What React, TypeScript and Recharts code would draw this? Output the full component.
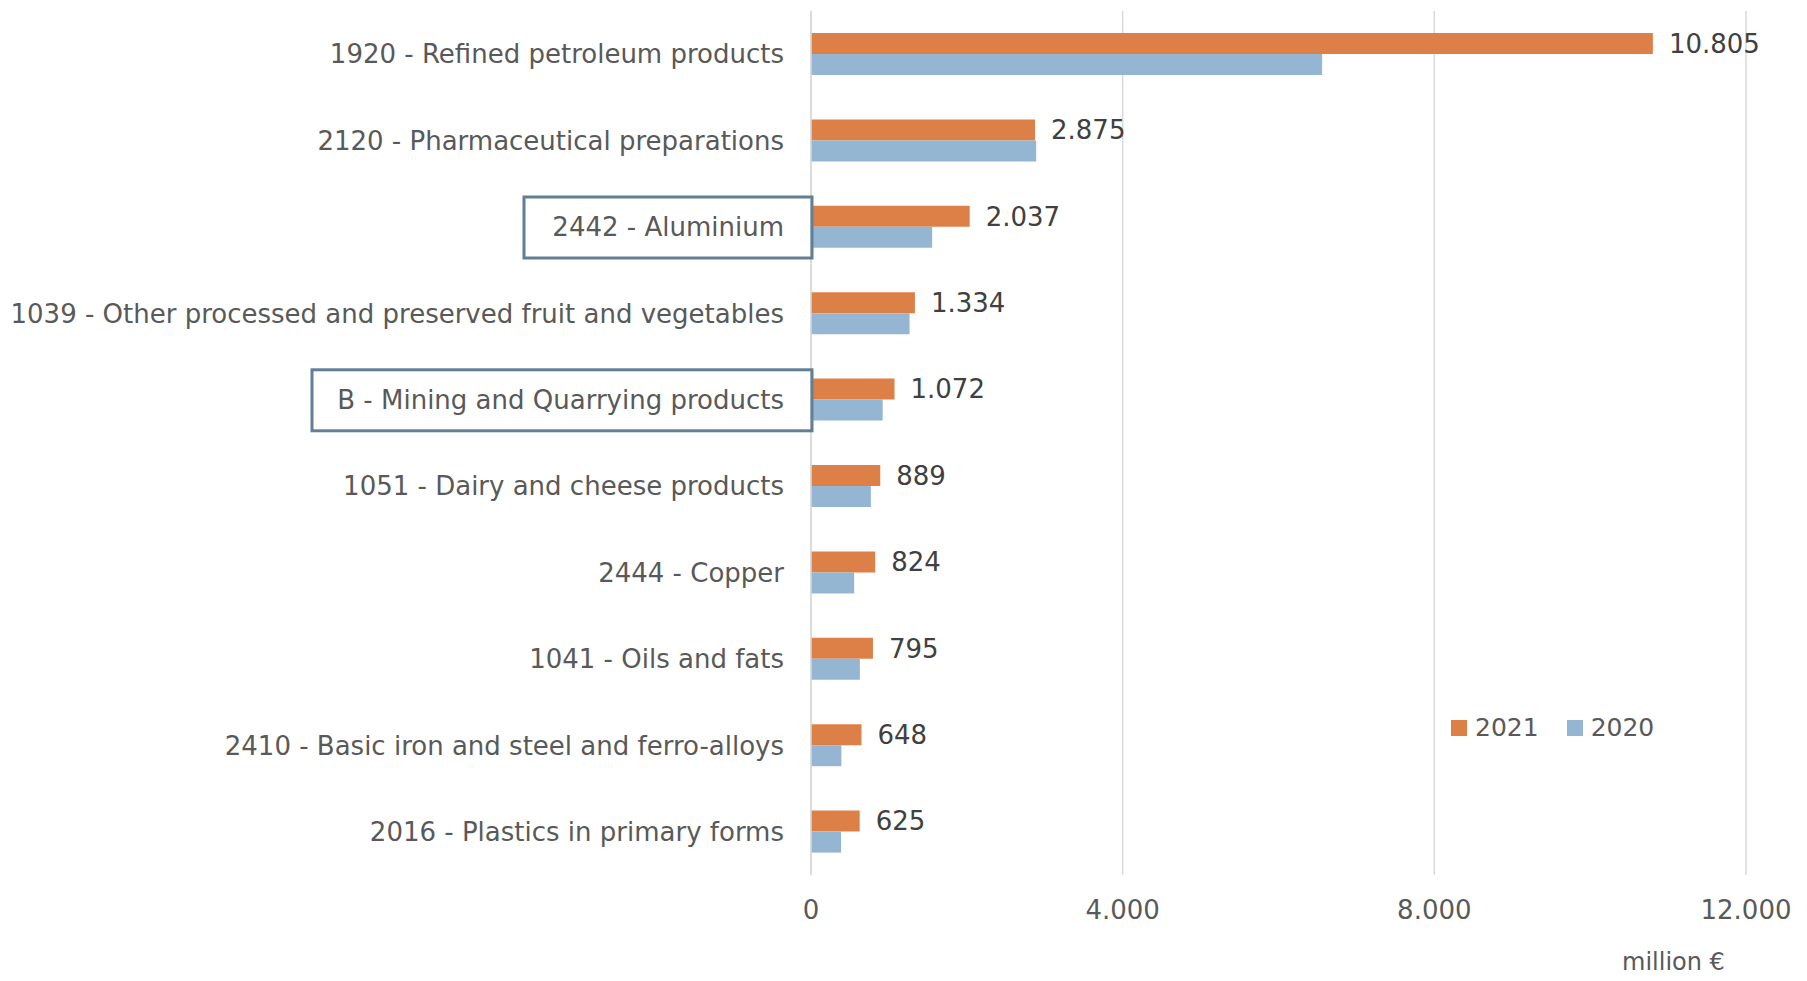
import { BarChart, Bar, XAxis, YAxis, CartesianGrid, LabelList, Legend } from 'recharts';

const categories = [
  '1920 - Refined petroleum products',
  '2120 - Pharmaceutical preparations',
  '2442 - Aluminium',
  '1039 - Other processed and preserved fruit and vegetables',
  'B - Mining and Quarrying products',
  '1051 - Dairy and cheese products',
  '2444 - Copper',
  '1041 - Oils and fats',
  '2410 - Basic iron and steel and ferro-alloys',
  '2016 - Plastics in primary forms',
];

const values2021 = [10805, 2875, 2037, 1334, 1072, 889, 824, 795, 648, 625];
const values2020 = [6560, 2890, 1555, 1265, 920, 768, 554, 627, 390, 386];

const xTicks = [0, 4000, 8000, 12000];

// categories that get a frame around their label (box width in px)
const boxed: Record<string, number> = {
  '2442 - Aluminium': 288,
  'B - Mining and Quarrying products': 500,
};

const FONT = '"DejaVu Sans", sans-serif';
const ORANGE = '#DD8047';
const BLUE = '#94B6D2';
const TEXT = '#595959';

const data = categories.map((name, i) => ({ name, y2021: values2021[i], y2020: values2020[i] }));

const fmt = (v: number) => String(v).replace(/\B(?=(\d{3})+(?!\d))/g, '.');

function CategoryTick({ x, y, payload }: any) {
  const w = boxed[payload.value];
  return (
    <g>
      {w && (
        <rect x={x - w + 1} y={y - 30} width={w} height={61} fill="none" stroke="#627F98" strokeWidth={3} />
      )}
      <text x={x - 27} y={y} dy="0.35em" textAnchor="end" fill={TEXT} fontSize={26} fontFamily={FONT}>
        {payload.value}
      </text>
    </g>
  );
}

function LegendContent() {
  const items = [
    { label: '2021', color: ORANGE },
    { label: '2020', color: BLUE },
  ];
  return (
    <div style={{ display: 'flex', alignItems: 'center', fontFamily: FONT, fontSize: 25, color: TEXT }}>
      {items.map((it, i) => (
        <div key={it.label} style={{ display: 'flex', alignItems: 'center', marginLeft: i ? 28 : 0 }}>
          <span style={{ width: 16, height: 16, background: it.color, marginRight: 8 }} />
          <span>{it.label}</span>
        </div>
      ))}
    </div>
  );
}

export default function App() {
  return (
    <div style={{ position: 'relative', width: 1790, height: 965 }}>
      <BarChart
        width={1790}
        height={965}
        data={data}
        layout="vertical"
        margin={{ top: 3, right: 52, bottom: 0, left: 0 }}
        barSize={21}
        barGap={0}
      >
        <CartesianGrid horizontal={false} stroke="#D9D9D9" strokeWidth={1.5} />
        <XAxis
          type="number"
          domain={[0, 12000]}
          ticks={xTicks}
          tickFormatter={fmt}
          axisLine={false}
          tickLine={false}
          tickSize={0}
          tickMargin={26}
          height={98}
          tick={{ fill: TEXT, fontSize: 26, fontFamily: FONT }}
        />
        <YAxis
          type="category"
          dataKey="name"
          width={803}
          axisLine={{ stroke: '#D9D9D9', strokeWidth: 1.5 }}
          tickLine={false}
          tickSize={0}
          tickMargin={0}
          interval={0}
          tick={<CategoryTick />}
        />
        <Legend
          layout="horizontal"
          verticalAlign="middle"
          align="center"
          content={<LegendContent />}
          wrapperStyle={{ position: 'absolute', left: 1443, top: 705, width: 'auto' }}
        />
        <Bar dataKey="y2021" name="2021" fill={ORANGE} isAnimationActive={false}>
          <LabelList
            dataKey="y2021"
            position="right"
            offset={16}
            formatter={(v: any) => fmt(v)}
            fill="#404040"
            fontSize={26}
            fontFamily={FONT}
          />
        </Bar>
        <Bar dataKey="y2020" name="2020" fill={BLUE} isAnimationActive={false} />
      </BarChart>
      <div
        style={{
          position: 'absolute',
          left: 1614,
          top: 940,
          fontFamily: FONT,
          fontSize: 24,
          color: TEXT,
          whiteSpace: 'nowrap',
        }}
      >
        million €
      </div>
    </div>
  );
}
